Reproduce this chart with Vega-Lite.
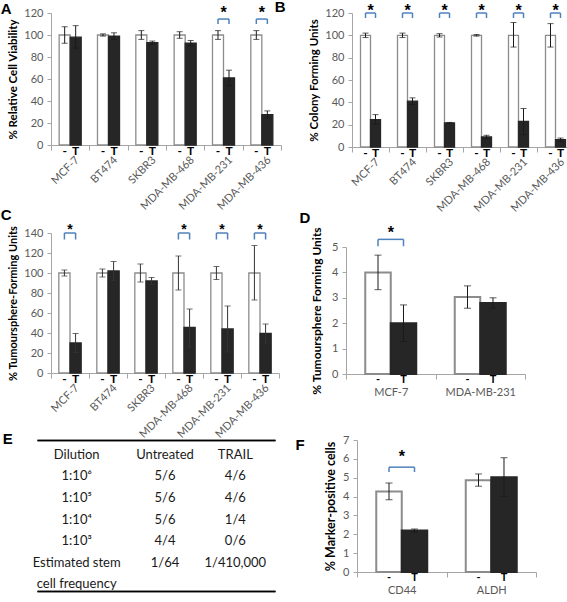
{
  "$schema": "https://vega.github.io/schema/vega-lite/v6.json",
  "padding": 0,
  "background": "white",
  "spacing": -7,
  "resolve": {"scale": {"xOffset": "independent", "x": "independent", "y": "independent"}},
  "config": {
    "view": {"stroke": null},
    "font": "Lato",
    "axis": {"labelFont": "Lato", "labelFontSize": 11, "labelColor": "#595959", "labelOverlap": false, "domainColor": "#a6a6a6", "tickColor": "#a6a6a6", "grid": false, "titleFont": "Lato", "titleFontWeight": "bold", "titleFontSize": 11.5, "titleColor": "#000", "tickSize": 4},
    "axisY": {"labelPadding": 4, "titlePadding": 5},
    "title": {"font": "Liberation Sans", "fontSize": 15, "fontWeight": "bold", "anchor": "start", "frame": "bounds", "color": "#000"}
  },
  "datasets": {
    "A": [
      {"cell": "MCF-7", "trt": "-", "v": 100, "lo": 92.5, "hi": 107.5},
      {"cell": "MCF-7", "trt": "T", "v": 98, "lo": 88, "hi": 108.5},
      {"cell": "BT474", "trt": "-", "v": 100, "lo": 99, "hi": 101},
      {"cell": "BT474", "trt": "T", "v": 99, "lo": 96, "hi": 102},
      {"cell": "SKBR3", "trt": "-", "v": 100, "lo": 96, "hi": 104},
      {"cell": "SKBR3", "trt": "T", "v": 93, "lo": 91.5, "hi": 94.5},
      {"cell": "MDA-MB-468", "trt": "-", "v": 100, "lo": 97, "hi": 103},
      {"cell": "MDA-MB-468", "trt": "T", "v": 92.5, "lo": 90, "hi": 95},
      {"cell": "MDA-MB-231", "trt": "-", "v": 100, "lo": 96, "hi": 104, "br": 114.5, "brl": 110, "st": 115.5},
      {"cell": "MDA-MB-231", "trt": "T", "v": 61, "lo": 54, "hi": 68, "br": 114.5, "brl": 110},
      {"cell": "MDA-MB-436", "trt": "-", "v": 100, "lo": 96, "hi": 104, "br": 114.5, "brl": 110, "st": 115.5},
      {"cell": "MDA-MB-436", "trt": "T", "v": 27.5, "lo": 24.5, "hi": 31, "br": 114.5, "brl": 110}
    ],
    "B": [
      {"cell": "MCF-7", "trt": "-", "v": 100, "lo": 98, "hi": 102, "br": 120, "brl": 115.5, "st": 117},
      {"cell": "MCF-7", "trt": "T", "v": 24.5, "lo": 20.5, "hi": 29, "br": 120, "brl": 115.5},
      {"cell": "BT474", "trt": "-", "v": 100, "lo": 98, "hi": 102, "br": 120, "brl": 115.5, "st": 117},
      {"cell": "BT474", "trt": "T", "v": 41, "lo": 38, "hi": 44, "br": 120, "brl": 115.5},
      {"cell": "SKBR3", "trt": "-", "v": 100, "lo": 98.5, "hi": 101.5, "br": 120, "brl": 115.5, "st": 117},
      {"cell": "SKBR3", "trt": "T", "v": 21.5, "lo": 21, "hi": 22, "br": 120, "brl": 115.5},
      {"cell": "MDA-MB-468", "trt": "-", "v": 100, "lo": 99.3, "hi": 100.7, "br": 120, "brl": 115.5, "st": 117},
      {"cell": "MDA-MB-468", "trt": "T", "v": 9, "lo": 7.5, "hi": 10.5, "br": 120, "brl": 115.5},
      {"cell": "MDA-MB-231", "trt": "-", "v": 100, "lo": 89.5, "hi": 111.5, "br": 120, "brl": 115.5, "st": 117},
      {"cell": "MDA-MB-231", "trt": "T", "v": 23, "lo": 11, "hi": 34.5, "br": 120, "brl": 115.5},
      {"cell": "MDA-MB-436", "trt": "-", "v": 100, "lo": 89.5, "hi": 110.5, "br": 120, "brl": 115.5, "st": 117},
      {"cell": "MDA-MB-436", "trt": "T", "v": 6.5, "lo": 5, "hi": 8, "br": 120, "brl": 115.5}
    ],
    "C": [
      {"cell": "MCF-7", "trt": "-", "v": 100, "lo": 97, "hi": 103, "br": 140, "brl": 133.5, "st": 139.5},
      {"cell": "MCF-7", "trt": "T", "v": 30, "lo": 20.5, "hi": 39.5, "br": 140, "brl": 133.5},
      {"cell": "BT474", "trt": "-", "v": 100, "lo": 96, "hi": 104},
      {"cell": "BT474", "trt": "T", "v": 102, "lo": 92.5, "hi": 111.5},
      {"cell": "SKBR3", "trt": "-", "v": 100, "lo": 91, "hi": 109},
      {"cell": "SKBR3", "trt": "T", "v": 92, "lo": 88.5, "hi": 95.5},
      {"cell": "MDA-MB-468", "trt": "-", "v": 100, "lo": 83, "hi": 117, "br": 140, "brl": 133.5, "st": 139.5},
      {"cell": "MDA-MB-468", "trt": "T", "v": 45.5, "lo": 26, "hi": 64, "br": 140, "brl": 133.5},
      {"cell": "MDA-MB-231", "trt": "-", "v": 100, "lo": 93.5, "hi": 106.5, "br": 140, "brl": 133.5, "st": 139.5},
      {"cell": "MDA-MB-231", "trt": "T", "v": 44, "lo": 21, "hi": 67, "br": 140, "brl": 133.5},
      {"cell": "MDA-MB-436", "trt": "-", "v": 100, "lo": 73, "hi": 127.5, "br": 140, "brl": 133.5, "st": 139.5},
      {"cell": "MDA-MB-436", "trt": "T", "v": 39.5, "lo": 30, "hi": 49, "br": 140, "brl": 133.5}
    ],
    "D": [
      {"cell": "MCF-7", "trt": "-", "v": 4.0, "lo": 3.32, "hi": 4.68, "br": 5.3, "brl": 5.03, "st": 5.37},
      {"cell": "MCF-7", "trt": "T", "v": 2.0, "lo": 1.28, "hi": 2.72, "br": 5.3, "brl": 5.03},
      {"cell": "MDA-MB-231", "trt": "-", "v": 3.03, "lo": 2.59, "hi": 3.47},
      {"cell": "MDA-MB-231", "trt": "T", "v": 2.8, "lo": 2.6, "hi": 3.0}
    ],
    "F": [
      {"cell": "CD44", "trt": "-", "v": 4.27, "lo": 3.83, "hi": 4.72, "br": 5.56, "brl": 5.3, "st": 5.81},
      {"cell": "CD44", "trt": "T", "v": 2.2, "lo": 2.12, "hi": 2.28, "br": 5.56, "brl": 5.3},
      {"cell": "ALDH", "trt": "-", "v": 4.87, "lo": 4.55, "hi": 5.2},
      {"cell": "ALDH", "trt": "T", "v": 5.03, "lo": 4.0, "hi": 6.06}
    ],
    "E": [
      {"col": "Dilution", "row": "h", "t": "Dilution"},
      {"col": "Untreated", "row": "h", "t": "Untreated"},
      {"col": "TRAIL", "row": "h", "t": "TRAIL"},
      {"col": "Dilution", "row": "6", "t": "1:10⁶"},
      {"col": "Untreated", "row": "6", "t": "5/6"},
      {"col": "TRAIL", "row": "6", "t": "4/6"},
      {"col": "Dilution", "row": "5", "t": "1:10⁵"},
      {"col": "Untreated", "row": "5", "t": "5/6"},
      {"col": "TRAIL", "row": "5", "t": "4/6"},
      {"col": "Dilution", "row": "4", "t": "1:10⁴"},
      {"col": "Untreated", "row": "4", "t": "5/6"},
      {"col": "TRAIL", "row": "4", "t": "1/4"},
      {"col": "Dilution", "row": "3", "t": "1:10³"},
      {"col": "Untreated", "row": "3", "t": "4/4"},
      {"col": "TRAIL", "row": "3", "t": "0/6"},
      {"col": "Dilution", "row": "e1", "t": "Estimated stem"},
      {"col": "Dilution", "row": "e2", "t": "cell frequency"}
    ],
    "E2": [
      {"col": "Untreated", "row": "e1", "t": "1/64"},
      {"col": "TRAIL", "row": "e1", "t": "1/410,000"}
    ]
  },
  "vconcat": [
    {
      "spacing": -8,
      "resolve": {"scale": {"xOffset": "independent", "x": "independent", "y": "independent"}},
      "hconcat": [
        {
          "width": 230, "height": 132,
          "title": {"text": "A", "dx": -7, "offset": -12},
          "data": {"name": "A"},
          "encoding": {"x": {"field": "cell", "type": "nominal", "sort": null, "scale": {"paddingInner": 0, "paddingOuter": 0}, "axis": {"title": null, "labelAngle": -45, "labelAlign": "right", "labelBaseline": "middle", "labelPadding": 8, "labelOffset": 7, "tickBand": "extent", "tickSize": 5}}},
          "layer": [
            {"mark": {"type": "bar", "strokeWidth": 1.3},
             "encoding": {
               "xOffset": {"field": "trt", "type": "nominal", "sort": ["-", "T"], "scale": {"paddingInner": 0, "paddingOuter": 0.74}},
               "y": {"field": "v", "type": "quantitative", "scale": {"domain": [0, 120]}, "axis": {"title": "% Relative Cell Viability", "values": [0, 20, 40, 60, 80, 100, 120]}},
               "fill": {"field": "trt", "type": "nominal", "scale": {"domain": ["-", "T"], "range": ["#ffffff", "#262626"]}, "legend": null},
               "stroke": {"field": "trt", "type": "nominal", "scale": {"domain": ["-", "T"], "range": ["#8c8c8c", "#262626"]}, "legend": null}}},
            {"mark": {"type": "rule", "color": "#1a1a1a"}, "encoding": {"xOffset": {"field": "trt", "type": "nominal", "sort": ["-", "T"]}, "y": {"field": "lo", "type": "quantitative", "axis": {"title": "% Relative Cell Viability", "values": [0, 20, 40, 60, 80, 100, 120]}}, "y2": {"field": "hi"}}},
            {"mark": {"type": "tick", "color": "#1a1a1a", "size": 6, "thickness": 1}, "encoding": {"xOffset": {"field": "trt", "type": "nominal", "sort": ["-", "T"]}, "y": {"field": "lo", "type": "quantitative", "axis": {"title": "% Relative Cell Viability", "values": [0, 20, 40, 60, 80, 100, 120]}}}},
            {"mark": {"type": "tick", "color": "#1a1a1a", "size": 6, "thickness": 1}, "encoding": {"xOffset": {"field": "trt", "type": "nominal", "sort": ["-", "T"]}, "y": {"field": "hi", "type": "quantitative", "axis": {"title": "% Relative Cell Viability", "values": [0, 20, 40, 60, 80, 100, 120]}}}},
            {"mark": {"type": "text", "baseline": "top", "dy": 1, "fontWeight": "bold", "fontSize": 12, "color": "#000"}, "encoding": {"xOffset": {"field": "trt", "type": "nominal", "sort": ["-", "T"]}, "y": {"datum": 0, "axis": {"title": "% Relative Cell Viability", "values": [0, 20, 40, 60, 80, 100, 120]}}, "text": {"field": "trt"}}},
            {"transform": [{"filter": "isValid(datum.br)"}], "mark": {"type": "rule", "color": "#4f81bd", "strokeWidth": 1.5}, "encoding": {"xOffset": {"field": "trt", "type": "nominal", "sort": ["-", "T"]}, "y": {"field": "brl", "type": "quantitative", "axis": {"title": "% Relative Cell Viability", "values": [0, 20, 40, 60, 80, 100, 120]}}, "y2": {"field": "br"}}},
            {"transform": [{"filter": "isValid(datum.br)"}], "mark": {"type": "line", "color": "#4f81bd", "strokeWidth": 1.5}, "encoding": {"xOffset": {"field": "trt", "type": "nominal", "sort": ["-", "T"]}, "y": {"field": "br", "type": "quantitative", "axis": {"title": "% Relative Cell Viability", "values": [0, 20, 40, 60, 80, 100, 120]}}, "detail": {"field": "cell"}}},
            {"transform": [{"filter": "isValid(datum.st)"}], "mark": {"type": "text", "font": "Liberation Sans", "fontSize": 16, "fontWeight": "bold", "baseline": "alphabetic", "color": "#000"}, "encoding": {"y": {"field": "st", "type": "quantitative", "axis": {"title": "% Relative Cell Viability", "values": [0, 20, 40, 60, 80, 100, 120]}}, "text": {"value": "*"}}}
          ]
        },
        {
          "width": 222, "height": 134,
          "title": {"text": "B", "dx": -34, "offset": -12},
          "data": {"name": "B"},
          "encoding": {"x": {"field": "cell", "type": "nominal", "sort": null, "scale": {"paddingInner": 0, "paddingOuter": 0}, "axis": {"title": null, "labelAngle": -45, "labelAlign": "right", "labelBaseline": "middle", "labelPadding": 8, "labelOffset": 7, "tickBand": "extent", "tickSize": 5}}},
          "layer": [
            {"mark": {"type": "bar", "strokeWidth": 1.3},
             "encoding": {
               "xOffset": {"field": "trt", "type": "nominal", "sort": ["-", "T"], "scale": {"paddingInner": 0, "paddingOuter": 0.85}},
               "y": {"field": "v", "type": "quantitative", "scale": {"domain": [0, 120]}, "axis": {"title": "% Colony Forming Units", "values": [0, 20, 40, 60, 80, 100, 120]}},
               "fill": {"field": "trt", "type": "nominal", "scale": {"domain": ["-", "T"], "range": ["#ffffff", "#262626"]}, "legend": null},
               "stroke": {"field": "trt", "type": "nominal", "scale": {"domain": ["-", "T"], "range": ["#404040", "#262626"]}, "legend": null}}},
            {"mark": {"type": "rule", "color": "#1a1a1a"}, "encoding": {"xOffset": {"field": "trt", "type": "nominal", "sort": ["-", "T"]}, "y": {"field": "lo", "type": "quantitative", "axis": {"title": "% Colony Forming Units", "values": [0, 20, 40, 60, 80, 100, 120]}}, "y2": {"field": "hi"}}},
            {"mark": {"type": "tick", "color": "#1a1a1a", "size": 6, "thickness": 1}, "encoding": {"xOffset": {"field": "trt", "type": "nominal", "sort": ["-", "T"]}, "y": {"field": "lo", "type": "quantitative", "axis": {"title": "% Colony Forming Units", "values": [0, 20, 40, 60, 80, 100, 120]}}}},
            {"mark": {"type": "tick", "color": "#1a1a1a", "size": 6, "thickness": 1}, "encoding": {"xOffset": {"field": "trt", "type": "nominal", "sort": ["-", "T"]}, "y": {"field": "hi", "type": "quantitative", "axis": {"title": "% Colony Forming Units", "values": [0, 20, 40, 60, 80, 100, 120]}}}},
            {"mark": {"type": "text", "baseline": "top", "dy": 1, "fontWeight": "bold", "fontSize": 12, "color": "#000"}, "encoding": {"xOffset": {"field": "trt", "type": "nominal", "sort": ["-", "T"]}, "y": {"datum": 0, "axis": {"title": "% Colony Forming Units", "values": [0, 20, 40, 60, 80, 100, 120]}}, "text": {"field": "trt"}}},
            {"transform": [{"filter": "isValid(datum.br)"}], "mark": {"type": "rule", "color": "#4f81bd", "strokeWidth": 1.5}, "encoding": {"xOffset": {"field": "trt", "type": "nominal", "sort": ["-", "T"]}, "y": {"field": "brl", "type": "quantitative", "axis": {"title": "% Colony Forming Units", "values": [0, 20, 40, 60, 80, 100, 120]}}, "y2": {"field": "br"}}},
            {"transform": [{"filter": "isValid(datum.br)"}], "mark": {"type": "line", "color": "#4f81bd", "strokeWidth": 1.5}, "encoding": {"xOffset": {"field": "trt", "type": "nominal", "sort": ["-", "T"]}, "y": {"field": "br", "type": "quantitative", "axis": {"title": "% Colony Forming Units", "values": [0, 20, 40, 60, 80, 100, 120]}}, "detail": {"field": "cell"}}},
            {"transform": [{"filter": "isValid(datum.st)"}], "mark": {"type": "text", "font": "Liberation Sans", "fontSize": 16, "fontWeight": "bold", "baseline": "alphabetic", "color": "#000"}, "encoding": {"y": {"field": "st", "type": "quantitative", "axis": {"title": "% Colony Forming Units", "values": [0, 20, 40, 60, 80, 100, 120]}}, "text": {"value": "*"}}}
          ]
        }
      ]
    },
    {
      "spacing": -8,
      "resolve": {"scale": {"xOffset": "independent", "x": "independent", "y": "independent"}},
      "vconcat": [
        {
          "spacing": 19,
          "resolve": {"scale": {"xOffset": "independent", "x": "independent", "y": "independent"}},
          "hconcat": [
            {
              "width": 228, "height": 140,
              "title": {"text": "C", "dx": -7, "offset": 0},
              "data": {"name": "C"},
              "encoding": {"x": {"field": "cell", "type": "nominal", "sort": null, "scale": {"paddingInner": 0, "paddingOuter": 0}, "axis": {"title": null, "labelAngle": -45, "labelAlign": "right", "labelBaseline": "middle", "labelPadding": 8, "labelOffset": 7, "tickBand": "extent", "tickSize": 5}}},
              "layer": [
                {"mark": {"type": "bar", "strokeWidth": 1.3},
                 "encoding": {
                   "xOffset": {"field": "trt", "type": "nominal", "sort": ["-", "T"], "scale": {"paddingInner": 0, "paddingOuter": 0.7}},
                   "y": {"field": "v", "type": "quantitative", "scale": {"domain": [0, 140]}, "axis": {"title": "% Tumoursphere-Forming Units", "titleFontSize": 11, "values": [0, 20, 40, 60, 80, 100, 120, 140]}},
                   "fill": {"field": "trt", "type": "nominal", "scale": {"domain": ["-", "T"], "range": ["#ffffff", "#262626"]}, "legend": null},
                   "stroke": {"field": "trt", "type": "nominal", "scale": {"domain": ["-", "T"], "range": ["#8c8c8c", "#262626"]}, "legend": null}}},
                {"mark": {"type": "rule", "color": "#333333"}, "encoding": {"xOffset": {"field": "trt", "type": "nominal", "sort": ["-", "T"]}, "y": {"field": "lo", "type": "quantitative", "axis": {"title": "% Tumoursphere-Forming Units", "titleFontSize": 11, "values": [0, 20, 40, 60, 80, 100, 120, 140]}}, "y2": {"field": "hi"}}},
                {"mark": {"type": "tick", "color": "#333333", "size": 6, "thickness": 1}, "encoding": {"xOffset": {"field": "trt", "type": "nominal", "sort": ["-", "T"]}, "y": {"field": "lo", "type": "quantitative", "axis": {"title": "% Tumoursphere-Forming Units", "titleFontSize": 11, "values": [0, 20, 40, 60, 80, 100, 120, 140]}}}},
                {"mark": {"type": "tick", "color": "#333333", "size": 6, "thickness": 1}, "encoding": {"xOffset": {"field": "trt", "type": "nominal", "sort": ["-", "T"]}, "y": {"field": "hi", "type": "quantitative", "axis": {"title": "% Tumoursphere-Forming Units", "titleFontSize": 11, "values": [0, 20, 40, 60, 80, 100, 120, 140]}}}},
                {"mark": {"type": "text", "baseline": "top", "dy": 1, "fontWeight": "bold", "fontSize": 12, "color": "#000"}, "encoding": {"xOffset": {"field": "trt", "type": "nominal", "sort": ["-", "T"]}, "y": {"datum": 0, "axis": {"title": "% Tumoursphere-Forming Units", "titleFontSize": 11, "values": [0, 20, 40, 60, 80, 100, 120, 140]}}, "text": {"field": "trt"}}},
                {"transform": [{"filter": "isValid(datum.br)"}], "mark": {"type": "rule", "color": "#4f81bd", "strokeWidth": 1.5}, "encoding": {"xOffset": {"field": "trt", "type": "nominal", "sort": ["-", "T"]}, "y": {"field": "brl", "type": "quantitative", "axis": {"title": "% Tumoursphere-Forming Units", "titleFontSize": 11, "values": [0, 20, 40, 60, 80, 100, 120, 140]}}, "y2": {"field": "br"}}},
                {"transform": [{"filter": "isValid(datum.br)"}], "mark": {"type": "line", "color": "#4f81bd", "strokeWidth": 1.5}, "encoding": {"xOffset": {"field": "trt", "type": "nominal", "sort": ["-", "T"]}, "y": {"field": "br", "type": "quantitative", "axis": {"title": "% Tumoursphere-Forming Units", "titleFontSize": 11, "values": [0, 20, 40, 60, 80, 100, 120, 140]}}, "detail": {"field": "cell"}}},
                {"transform": [{"filter": "isValid(datum.st)"}], "mark": {"type": "text", "font": "Liberation Sans", "fontSize": 14, "fontWeight": "bold", "baseline": "alphabetic", "color": "#000"}, "encoding": {"y": {"field": "st", "type": "quantitative", "axis": {"title": "% Tumoursphere-Forming Units", "titleFontSize": 11, "values": [0, 20, 40, 60, 80, 100, 120, 140]}}, "text": {"value": "*"}}}
              ]
            },
            {
              "width": 179, "height": 141,
              "title": {"text": "D", "dx": -11, "offset": -1},
              "data": {"name": "D"},
              "encoding": {"x": {"field": "cell", "type": "nominal", "sort": null, "scale": {"paddingInner": 0, "paddingOuter": 0}, "axis": {"title": null, "labelAngle": 0, "labelPadding": 7, "tickBand": "extent", "tickSize": 5}}},
              "layer": [
                {"mark": {"type": "bar", "strokeWidth": 2},
                 "encoding": {
                   "xOffset": {"field": "trt", "type": "nominal", "sort": ["-", "T"], "scale": {"paddingInner": 0, "paddingOuter": 0.755}},
                   "y": {"field": "v", "type": "quantitative", "scale": {"domain": [0, 5], "range": [141, 14]}, "axis": {"title": "% Tumoursphere Forming Units", "titleFontSize": 12, "titlePadding": 8, "values": [0, 1, 2, 3, 4, 5]}},
                   "fill": {"field": "trt", "type": "nominal", "scale": {"domain": ["-", "T"], "range": ["#ffffff", "#262626"]}, "legend": null},
                   "stroke": {"field": "trt", "type": "nominal", "scale": {"domain": ["-", "T"], "range": ["#8c8c8c", "#7f7f7f"]}, "legend": null}}},
                {"mark": {"type": "rule", "color": "#1a1a1a"}, "encoding": {"xOffset": {"field": "trt", "type": "nominal", "sort": ["-", "T"]}, "y": {"field": "lo", "type": "quantitative", "axis": {"title": "% Tumoursphere Forming Units", "titleFontSize": 12, "titlePadding": 8, "values": [0, 1, 2, 3, 4, 5]}}, "y2": {"field": "hi"}}},
                {"mark": {"type": "tick", "color": "#1a1a1a", "size": 7, "thickness": 1}, "encoding": {"xOffset": {"field": "trt", "type": "nominal", "sort": ["-", "T"]}, "y": {"field": "lo", "type": "quantitative", "axis": {"title": "% Tumoursphere Forming Units", "titleFontSize": 12, "titlePadding": 8, "values": [0, 1, 2, 3, 4, 5]}}}},
                {"mark": {"type": "tick", "color": "#1a1a1a", "size": 7, "thickness": 1}, "encoding": {"xOffset": {"field": "trt", "type": "nominal", "sort": ["-", "T"]}, "y": {"field": "hi", "type": "quantitative", "axis": {"title": "% Tumoursphere Forming Units", "titleFontSize": 12, "titlePadding": 8, "values": [0, 1, 2, 3, 4, 5]}}}},
                {"mark": {"type": "text", "baseline": "top", "dy": 0, "fontWeight": "bold", "fontSize": 11, "color": "#000"}, "encoding": {"xOffset": {"field": "trt", "type": "nominal", "sort": ["-", "T"]}, "y": {"datum": 0, "axis": {"title": "% Tumoursphere Forming Units", "titleFontSize": 12, "titlePadding": 8, "values": [0, 1, 2, 3, 4, 5]}}, "text": {"field": "trt"}}},
                {"transform": [{"filter": "isValid(datum.br)"}], "mark": {"type": "rule", "color": "#4f81bd", "strokeWidth": 1.5}, "encoding": {"xOffset": {"field": "trt", "type": "nominal", "sort": ["-", "T"]}, "y": {"field": "brl", "type": "quantitative", "axis": {"title": "% Tumoursphere Forming Units", "titleFontSize": 12, "titlePadding": 8, "values": [0, 1, 2, 3, 4, 5]}}, "y2": {"field": "br"}}},
                {"transform": [{"filter": "isValid(datum.br)"}], "mark": {"type": "line", "color": "#4f81bd", "strokeWidth": 1.5}, "encoding": {"xOffset": {"field": "trt", "type": "nominal", "sort": ["-", "T"]}, "y": {"field": "br", "type": "quantitative", "axis": {"title": "% Tumoursphere Forming Units", "titleFontSize": 12, "titlePadding": 8, "values": [0, 1, 2, 3, 4, 5]}}, "detail": {"field": "cell"}}},
                {"transform": [{"filter": "isValid(datum.st)"}], "mark": {"type": "text", "font": "Liberation Sans", "fontSize": 16, "fontWeight": "bold", "baseline": "alphabetic", "color": "#000"}, "encoding": {"y": {"field": "st", "type": "quantitative", "axis": {"title": "% Tumoursphere Forming Units", "titleFontSize": 12, "titlePadding": 8, "values": [0, 1, 2, 3, 4, 5]}}, "text": {"value": "*"}}}
              ]
            }
          ]
        },
        {
          "spacing": 6,
          "resolve": {"scale": {"xOffset": "independent", "x": "independent", "y": "independent"}},
          "hconcat": [
            {
              "width": 238, "height": 151,
              "title": {"text": "E", "dx": -30, "offset": -7},
              "layer": [
                {"data": {"name": "E"}, "transform": [{"filter": "datum.col !== 'Untreated'"}], "mark": {"type": "text", "font": "Lato", "fontSize": 13, "color": "#1a1a1a", "dy": 4},
                 "encoding": {
                   "x": {"field": "col", "type": "nominal", "sort": ["Dilution", "Untreated", "TRAIL"], "scale": {"domain": ["Dilution", "Untreated", "TRAIL"], "range": [-14, 224], "paddingInner": 0, "paddingOuter": 0}, "axis": {"orient": "top", "title": null, "labels": false, "ticks": false, "domainColor": "#000", "domainWidth": 1.5}},
                   "y": {"field": "row", "type": "nominal", "sort": ["h", "6", "5", "4", "3", "e1", "e2"], "scale": {"domain": ["h", "6", "5", "4", "3", "e1", "e2"], "paddingInner": 0, "paddingOuter": 0}, "axis": null},
                   "text": {"field": "t"}}},
                {"data": {"name": "E"}, "transform": [{"filter": "datum.col === 'Untreated'"}], "mark": {"type": "text", "font": "Lato", "fontSize": 13, "color": "#1a1a1a", "dy": 4, "dx": 9},
                 "encoding": {
                   "x": {"field": "col", "type": "nominal", "sort": ["Dilution", "Untreated", "TRAIL"], "axis": {"orient": "top", "title": null, "labels": false, "ticks": false, "domainColor": "#000", "domainWidth": 1.5}},
                   "y": {"field": "row", "type": "nominal", "sort": ["h", "6", "5", "4", "3", "e1", "e2"], "axis": null},
                   "text": {"field": "t"}}},
                {"data": {"name": "E2"}, "transform": [{"filter": "datum.col === 'Untreated'"}], "mark": {"type": "text", "font": "Lato", "fontSize": 13, "color": "#1a1a1a", "dy": 4, "dx": 9},
                 "encoding": {
                   "x": {"field": "col", "type": "nominal", "sort": ["Dilution", "Untreated", "TRAIL"], "axis": {"orient": "bottom", "title": null, "labels": false, "ticks": false, "domainColor": "#000", "domainWidth": 1.5}},
                   "y": {"field": "row", "type": "nominal", "sort": ["h", "6", "5", "4", "3", "e1", "e2"], "bandPosition": 1, "axis": null},
                   "text": {"field": "t"}}},
                {"data": {"name": "E2"}, "transform": [{"filter": "datum.col !== 'Untreated'"}], "mark": {"type": "text", "font": "Lato", "fontSize": 13, "color": "#1a1a1a", "dy": 4},
                 "encoding": {
                   "x": {"field": "col", "type": "nominal", "sort": ["Dilution", "Untreated", "TRAIL"], "axis": {"orient": "bottom", "title": null, "labels": false, "ticks": false, "domainColor": "#000", "domainWidth": 1.5}},
                   "y": {"field": "row", "type": "nominal", "sort": ["h", "6", "5", "4", "3", "e1", "e2"], "bandPosition": 1, "axis": null},
                   "text": {"field": "t"}}}
              ],
              "resolve": {"axis": {"x": "independent"}}
            },
            {
              "width": 179, "height": 132,
              "title": {"text": "F", "dx": -29, "offset": -19},
              "data": {"name": "F"},
              "encoding": {"x": {"field": "cell", "type": "nominal", "sort": null, "scale": {"paddingInner": 0, "paddingOuter": 0}, "axis": {"title": null, "labelAngle": 0, "labelPadding": 7, "tickBand": "extent", "tickSize": 5}}},
              "layer": [
                {"mark": {"type": "bar", "strokeWidth": 2},
                 "encoding": {
                   "xOffset": {"field": "trt", "type": "nominal", "sort": ["-", "T"], "scale": {"paddingInner": 0, "paddingOuter": 0.755}},
                   "y": {"field": "v", "type": "quantitative", "scale": {"domain": [0, 7]}, "axis": {"title": "% Marker-positive cells", "titleFontSize": 12.5, "values": [0, 1, 2, 3, 4, 5, 6, 7]}},
                   "fill": {"field": "trt", "type": "nominal", "scale": {"domain": ["-", "T"], "range": ["#ffffff", "#262626"]}, "legend": null},
                   "stroke": {"field": "trt", "type": "nominal", "scale": {"domain": ["-", "T"], "range": ["#8c8c8c", "#7f7f7f"]}, "legend": null}}},
                {"mark": {"type": "rule", "color": "#1a1a1a"}, "encoding": {"xOffset": {"field": "trt", "type": "nominal", "sort": ["-", "T"]}, "y": {"field": "lo", "type": "quantitative", "axis": {"title": "% Marker-positive cells", "titleFontSize": 12.5, "values": [0, 1, 2, 3, 4, 5, 6, 7]}}, "y2": {"field": "hi"}}},
                {"mark": {"type": "tick", "color": "#1a1a1a", "size": 7, "thickness": 1}, "encoding": {"xOffset": {"field": "trt", "type": "nominal", "sort": ["-", "T"]}, "y": {"field": "lo", "type": "quantitative", "axis": {"title": "% Marker-positive cells", "titleFontSize": 12.5, "values": [0, 1, 2, 3, 4, 5, 6, 7]}}}},
                {"mark": {"type": "tick", "color": "#1a1a1a", "size": 7, "thickness": 1}, "encoding": {"xOffset": {"field": "trt", "type": "nominal", "sort": ["-", "T"]}, "y": {"field": "hi", "type": "quantitative", "axis": {"title": "% Marker-positive cells", "titleFontSize": 12.5, "values": [0, 1, 2, 3, 4, 5, 6, 7]}}}},
                {"mark": {"type": "text", "baseline": "top", "dy": 0, "fontWeight": "bold", "fontSize": 11, "color": "#000"}, "encoding": {"xOffset": {"field": "trt", "type": "nominal", "sort": ["-", "T"]}, "y": {"datum": 0, "axis": {"title": "% Marker-positive cells", "titleFontSize": 12.5, "values": [0, 1, 2, 3, 4, 5, 6, 7]}}, "text": {"field": "trt"}}},
                {"transform": [{"filter": "isValid(datum.br)"}], "mark": {"type": "rule", "color": "#4f81bd", "strokeWidth": 1.5}, "encoding": {"xOffset": {"field": "trt", "type": "nominal", "sort": ["-", "T"]}, "y": {"field": "brl", "type": "quantitative", "axis": {"title": "% Marker-positive cells", "titleFontSize": 12.5, "values": [0, 1, 2, 3, 4, 5, 6, 7]}}, "y2": {"field": "br"}}},
                {"transform": [{"filter": "isValid(datum.br)"}], "mark": {"type": "line", "color": "#4f81bd", "strokeWidth": 1.5}, "encoding": {"xOffset": {"field": "trt", "type": "nominal", "sort": ["-", "T"]}, "y": {"field": "br", "type": "quantitative", "axis": {"title": "% Marker-positive cells", "titleFontSize": 12.5, "values": [0, 1, 2, 3, 4, 5, 6, 7]}}, "detail": {"field": "cell"}}},
                {"transform": [{"filter": "isValid(datum.st)"}], "mark": {"type": "text", "font": "Liberation Sans", "fontSize": 16, "fontWeight": "bold", "baseline": "alphabetic", "color": "#000"}, "encoding": {"y": {"field": "st", "type": "quantitative", "axis": {"title": "% Marker-positive cells", "titleFontSize": 12.5, "values": [0, 1, 2, 3, 4, 5, 6, 7]}}, "text": {"value": "*"}}}
              ]
            }
          ]
        }
      ]
    }
  ]
}
